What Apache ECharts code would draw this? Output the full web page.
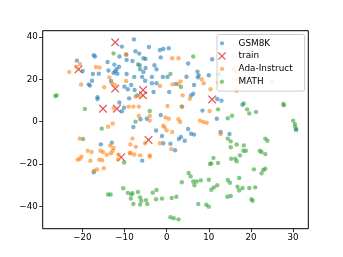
<!DOCTYPE html>
<html>
<head>
<meta charset="utf-8">
<script src="https://cdn.jsdelivr.net/npm/echarts@6/dist/echarts.min.js"></script>
<style>html,body{margin:0;padding:0;background:#fff}#c{width:343px;height:257px}</style>
</head>
<body>
<div id="c"></div>
<script>
const seriesNames = ['GSM8K', 'train', 'Ada-Instruct', 'MATH'];
const xTicks = [-20, -10, 0, 10, 20, 30];
const yTicks = [-40, -20, 0, 20, 40];

const gsm8kPoints = [
[-7.75,38.8],[-10.6,35.4],[-4.2,35.2],[-1.6,33.8],[-0.8,34.3],[0.5,34.6],[-7.4,33.2],[-6.5,32.1],[-9.6,31.6],[-11.2,30.7],
[-17.3,31.3],[-17.0,30.7],[-5.5,29.9],[-5.0,29.6],[-1.4,30.3],[-21.3,28.8],[-14.0,28.1],[-9.5,29.1],[-8.1,28.6],[-12.4,26.9],
[-6.4,26.6],[-2.9,26.6],[5.1,27.4],[10.8,29.4],[-11.3,25.9],[-5.0,25.3],[-2.4,24.7],[-6.3,24.7],[-11.9,24.7],[-13.8,24.1],
[-19.9,23.9],[-12.2,23.7],[7.3,23.6],[-5.5,23.4],[-12.6,23.0],[7.6,21.9],[10.0,21.9],[-11.7,22.6],[-17.5,22.5],[-16.1,22.6],
[-9.5,22.5],[-7.7,21.1],[-5.8,21.1],[-3.5,21.1],[-0.9,21.1],[0.2,21.1],[4.7,21.2],[7.4,20.9],[-5.1,19.3],[-13.2,19.2],
[-17.7,19.3],[2.2,17.8],[-3.5,18.1],[-2.4,18.1],[-18.2,17.0],[-18.5,17.6],[-10.0,16.5],[-9.2,15.3],[-8.4,17.3],[-7.6,14.9],
[-3.1,14.0],[6.5,17.3],[0.6,14.0],[-7.0,12.3],[-8.9,11.0],[-16.4,11.5],[-16.4,10.7],[5.8,12.3],[6.3,13.2],[12.0,10.7],
[13.0,9.9],[-11.2,9.0],[18.0,8.0],[3.6,7.1],[-10.1,6.6],[-10.6,4.9],[11.9,1.4],[-1.4,3.1],[-4.7,1.4],[-6.2,1.1],
[8.5,5.2],[-7.9,-2.5],[5.1,-3.5],[-2.5,-4.2],[5.8,-5.7],[6.5,-6.1],[12.8,-4.9],[14.9,-5.8],[-1.1,-6.8],[3.4,-7.2],
[2.9,-8.2],[4.3,-9.0],[-13.0,-9.9],[-15.6,-10.7],[-0.8,-10.2],[0.9,-10.4],[2.0,-13.5],[-5.8,-18.4],[-17.3,-23.9],[30.7,-3.8],
[12.4,22.3]
];

const trainPoints = [
[-12.2,37.4],[-20.9,24.7],[-12.2,15.6],[-5.6,14.9],[-5.6,12.4],[-15.1,6.1],[-11.8,6.1],[10.8,10.5],[-4.3,-8.6],[-10.8,-16.8]
];

const adaInstructPoints = [
[-23.1,23.4],[-20.6,27.2],[-21.4,25.8],[-20.3,17.5],[-16.8,25.8],[-15.9,25.5],[-14.8,16.2],[-13.0,18.1],[-12.3,17.3],[-9.6,31.8],
[-9.6,19.2],[-13.6,20.9],[-12.6,6.4],[-12.8,-0.9],[-13.9,-2.4],[-9.0,7.1],[-7.9,7.1],[-6.6,7.1],[-7.4,11.8],[-6.3,12.0],
[1.3,29.9],[2.8,29.9],[8.3,20.0],[8.8,18.1],[1.4,17.6],[3.3,19.0],[2.8,17.6],[-1.6,16.8],[3.8,12.4],[5.5,10.8],
[0.2,7.4],[3.7,7.1],[10.2,5.0],[10.4,15.3],[12.2,18.4],[13.0,17.8],[16.6,14.6],[15.8,24.8],[16.5,23.3],[17.0,20.0],
[22.1,18.9],[24.9,18.9],[-4.0,0.5],[-4.0,2.7],[-6.6,2.7],[-0.3,2.0],[0.5,1.4],[-0.8,-1.9],[-0.5,-2.7],[2.8,1.1],
[3.2,-0.2],[7.9,0.5],[8.7,-0.2],[9.5,-0.5],[12.8,-5.8],[0.0,-4.1],[1.3,-4.9],[-20.6,-8.0],[-8.1,-8.0],[-7.3,-11.9],
[-5.1,-10.2],[-1.6,-10.2],[1.1,-12.9],[-8.7,-14.8],[-6.3,-15.9],[-4.0,-15.9],[-4.0,-16.5],[-13.4,-11.3],[-12.6,-12.4],[-12.8,-13.7],
[-8.6,-10.8],[-18.7,-13.7],[-17.8,-14.3],[-15.7,-13.7],[-15.1,-14.3],[-20.2,-16.5],[-20.6,-17.6],[-21.1,-17.9],[-18.1,-18.4],[-16.0,-17.9],
[-15.3,-18.2],[-14.2,-15.6],[-13.2,-14.9],[-11.4,-15.6],[-11.5,-17.8],[-8.6,-14.9],[-14.9,-22.0],[-16.5,-22.6],[-17.2,-23.1],[-7.7,-15.5]
];

const mathPoints = [
[-12.6,32.2],[-6.8,27.0],[0.9,22.5],[6.3,30.7],[3.4,16.4],[-26.4,12.1],[-26.1,12.4],[-19.4,6.0],[-15.4,-3.3],[-7.4,0.0],
[-4.0,5.0],[-19.8,-8.2],[12.2,5.8],[14.5,1.6],[15.5,2.8],[19.1,5.8],[19.6,3.9],[21.2,4.6],[18.3,8.6],[27.7,8.3],
[27.8,7.7],[30.0,0.5],[30.4,-1.1],[30.5,-2.4],[-10.1,-19.3],[-10.3,-31.4],[-13.9,-34.4],[-13.3,-34.4],[-9.2,-33.6],[-8.4,-34.4],
[-8.5,-36.3],[-8.1,-33.8],[-6.8,-33.2],[-7.9,-38.8],[-6.3,-35.7],[-6.0,-37.3],[-6.3,-39.1],[-4.9,-37.0],[-4.6,-38.8],[-3.3,-33.5],
[-2.4,-32.2],[-2.5,-36.6],[-1.1,-36.3],[1.2,-36.0],[2.3,-35.4],[0.9,-45.1],[1.7,-45.6],[2.8,-46.1],[3.6,-28.6],[5.2,-24.2],
[5.7,-25.8],[6.3,-28.2],[7.1,-28.2],[8.1,-27.7],[10.0,-27.4],[6.6,-30.0],[7.5,-38.8],[9.4,-39.2],[10.0,-40.1],[10.6,-32.1],
[11.2,-31.0],[12.0,-30.0],[11.1,-17.1],[10.6,-19.7],[10.3,-20.0],[12.2,-19.5],[14.5,-8.0],[15.2,-9.3],[16.6,-10.8],[18.3,-11.2],
[15.2,-12.1],[18.2,-13.7],[18.8,-13.7],[17.4,-15.9],[15.3,-17.5],[16.3,-17.5],[16.6,-18.7],[22.1,-13.7],[22.5,-14.3],[23.4,-15.3],
[23.4,-8.0],[23.9,-9.0],[20.7,-22.5],[22.5,-24.4],[22.9,-22.8],[23.4,-22.2],[14.5,-27.5],[15.0,-28.8],[17.2,-26.6],[16.8,-30.7],
[17.2,-32.5],[18.0,-31.3],[19.6,-31.3],[21.0,-31.0],[14.4,-35.4],[15.2,-35.1],[20.1,-36.6],[20.4,-37.3],[30.7,-3.6]
];

const FONT = 'DejaVu Sans';
const dotIcon = 'path://M0,0L0,0M8,8L8,8M4,1.9A2.1,2.1,0,1,1,4,6.1A2.1,2.1,0,1,1,4,1.9Z';
const xIcon = 'path://M0,1L1,0L5,4L9,0L10,1L6,5L10,9L9,10L5,6L1,10L0,9L4,5Z';
const fmt = v => String(v).replace('-', '\u2212');

const chart = echarts.init(document.getElementById('c'), null, {renderer: 'canvas'});
chart.setOption({
  animation: false,
  backgroundColor: '#fff',
  grid: {left: 42.7, top: 30.7, width: 265.6, height: 198, show: true, borderColor: '#000', borderWidth: 1, backgroundColor: 'transparent', containLabel: false, outerBoundsMode: 'none'},
  xAxis: {
    type: 'value', min: -29.4, max: 33.6,
    splitLine: {show: false},
    axisLine: {show: false, onZero: false},
    axisTick: {show: true, length: 3.5, inside: false, customValues: xTicks, lineStyle: {color: '#000', width: 0.8}},
    axisLabel: {customValues: xTicks, formatter: fmt, color: '#000', fontFamily: FONT, fontSize: 8.7, margin: 5}
  },
  yAxis: {
    type: 'value', min: -50.5, max: 42.9,
    splitLine: {show: false},
    axisLine: {show: false, onZero: false},
    axisTick: {show: true, length: 3.5, inside: false, customValues: yTicks, lineStyle: {color: '#000', width: 0.8}},
    axisLabel: {customValues: yTicks, formatter: fmt, color: '#000', fontFamily: FONT, fontSize: 8.7, margin: 5}
  },
  legend: {
    orient: 'vertical', left: 217, top: 34.5,
    padding: [2.4, 12, 3, 1],
    itemGap: 0, itemWidth: 23, itemHeight: 8,
    backgroundColor: 'rgba(255,255,255,0.8)', borderColor: '#cccccc', borderWidth: 1, borderRadius: 2,
    symbolKeepAspect: true,
    textStyle: {fontFamily: FONT, fontSize: 8.9, color: '#000', lineHeight: 12.8, padding: 0},
    data: [
      {name: seriesNames[0], icon: dotIcon},
      {name: seriesNames[1], icon: xIcon},
      {name: seriesNames[2], icon: dotIcon},
      {name: seriesNames[3], icon: dotIcon}
    ]
  },
  series: [
    {name: seriesNames[0], type: 'scatter', data: gsm8kPoints, symbol: 'circle', symbolSize: 4.4, itemStyle: {color: '#1f77b4', opacity: 0.58}},
    {name: seriesNames[1], type: 'scatter', data: trainPoints, symbol: xIcon, symbolSize: 8.5, itemStyle: {color: '#d62728', opacity: 0.78}},
    {name: seriesNames[2], type: 'scatter', data: adaInstructPoints, symbol: 'circle', symbolSize: 4.4, itemStyle: {color: '#ff7f0e', opacity: 0.58}},
    {name: seriesNames[3], type: 'scatter', data: mathPoints, symbol: 'circle', symbolSize: 4.4, itemStyle: {color: '#2ca02c', opacity: 0.58}}
  ]
});
</script>
</body>
</html>
